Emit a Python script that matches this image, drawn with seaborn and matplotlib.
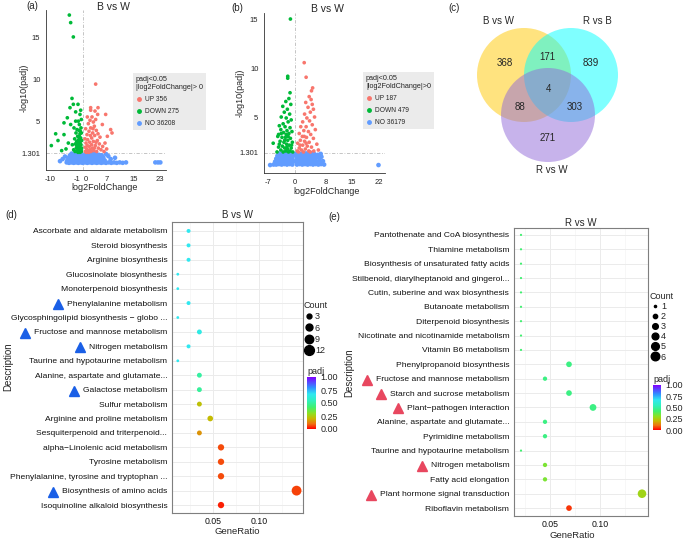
import numpy as np
import pandas as pd
import matplotlib
matplotlib.use("Agg")
import matplotlib.pyplot as plt
from matplotlib.colors import LinearSegmentedColormap, Normalize
from matplotlib.cm import ScalarMappable
from matplotlib.lines import Line2D
from matplotlib.patches import Circle
import seaborn as sns

sns.set_style("white")
plt.rcParams['font.family'] = ['Liberation Sans', 'DejaVu Sans']
plt.rcParams['axes.unicode_minus'] = False

# ---------------- data ----------------
# volcano (a): (log2FoldChange, -log10 padj)
a_down = [(-4.2, 17.7), (-3.8, 16.8), (-3.0, 15.1), (-3.4, 7.8), (-3.0, 7.1), (-1.6, 7.1), (-2.3, 6.2),
          (-4.0, 6.7), (-4.8, 5.5), (-8.3, 3.6), (-7.6, 2.8), (-9.6, 2.2), (-5.8, 3.5), (-5.8, 4.9),
          (-4.5, 2.5), (-5.2, 1.8), (-6.5, 1.6), (-0.6, 1.5), (-0.9, 1.8), (-1.2, 1.6), (-1.5, 2.0),
          (-0.7, 2.3), (-1.1, 2.6), (-1.8, 1.5), (-2.1, 1.9), (-1.4, 2.9), (-0.8, 3.1), (-1.7, 3.3),
          (-1.0, 3.6), (-2.4, 2.4), (-1.3, 4.0), (-0.7, 4.3), (-1.9, 4.1), (-1.2, 4.7), (-0.6, 5.3),
          (-1.5, 5.1), (-2.6, 3.0), (-2.9, 1.7), (-3.3, 2.3), (-2.2, 3.7), (-0.5, 2.8), (-1.6, 1.4),
          (-2.5, 1.5), (-1.0, 1.4), (-0.5, 1.9), (-2.0, 2.7), (-1.3, 2.2), (-0.9, 3.9), (-1.8, 2.5),
          (-2.8, 4.3), (-3.8, 4.7), (-2.3, 5.1), (-1.0, 5.9), (-0.8, 6.4), (-0.7, 1.7), (-1.1, 2.1),
          (-1.4, 2.4), (-0.9, 2.7), (-1.2, 3.3), (-0.6, 3.7), (-1.6, 1.8), (-2.0, 2.2), (-1.1, 1.9)]
a_up = [(0.6, 1.5), (1.0, 1.8), (1.4, 1.6), (1.8, 2.1), (2.3, 1.5), (2.7, 1.9), (3.1, 1.6), (3.6, 2.2),
        (4.0, 1.5), (4.5, 1.9), (0.8, 2.5), (1.3, 2.9), (1.9, 2.6), (2.5, 3.1), (3.0, 2.7), (3.4, 3.4),
        (4.2, 2.8), (4.8, 2.4), (5.3, 1.7), (5.8, 2.1), (6.2, 1.5), (1.1, 3.5), (1.7, 3.9), (2.2, 4.3),
        (2.8, 3.7), (3.3, 4.5), (3.9, 4.0), (4.4, 3.6), (1.5, 4.8), (2.0, 5.2), (2.6, 5.6), (3.0, 5.0),
        (3.7, 5.3), (4.3, 5.9), (2.2, 6.4), (3.5, 6.3), (1.2, 5.6), (0.7, 4.2), (5.0, 3.2), (5.7, 4.7),
        (6.7, 5.9), (8.2, 4.1), (8.6, 3.7), (7.2, 3.3), (3.7, 9.5), (2.2, 6.7), (4.4, 6.7), (6.5, 2.5),
        (7.0, 1.8), (0.5, 3.0), (0.9, 1.4), (1.6, 1.4), (2.0, 1.7), (2.5, 2.3), (3.3, 1.9), (3.8, 2.6),
        (1.2, 2.2), (2.1, 3.4), (2.9, 4.2), (0.6, 2.0)]
a_no = [(-7.0, 0.35), (-6.2, 0.6), (-5.5, 0.9), (-5.0, 0.2), (-4.3, 0.15), (-3.6, 0.2), (-2.9, 0.15),
        (-2.2, 0.2), (-1.5, 0.15), (-0.8, 0.2), (-0.2, 0.15), (0.5, 0.2), (1.2, 0.15), (1.9, 0.2),
        (2.6, 0.15), (3.3, 0.2), (4.0, 0.15), (4.7, 0.2), (5.4, 0.15), (6.1, 0.2), (6.8, 0.15), (7.6, 0.2),
        (8.4, 0.15), (9.2, 0.2), (10.0, 0.15), (10.9, 0.2), (11.8, 0.15), (12.8, 0.2), (21.6, 0.2),
        (22.4, 0.2), (23.1, 0.2),
        (-4.8, 0.45), (-4.1, 0.5), (-3.4, 0.4), (-2.7, 0.5), (-2.0, 0.45), (-1.3, 0.4), (-0.6, 0.5),
        (0.1, 0.45), (0.8, 0.4), (1.5, 0.5), (2.2, 0.45), (2.9, 0.4), (3.6, 0.5), (4.3, 0.45), (5.0, 0.4),
        (5.7, 0.5), (6.4, 0.45), (8.2, 0.6),
        (-4.5, 0.75), (-3.8, 0.8), (-3.1, 0.7), (-2.4, 0.8), (-1.7, 0.75), (-1.0, 0.7), (-0.3, 0.8),
        (0.4, 0.75), (1.1, 0.7), (1.8, 0.8), (2.5, 0.75), (3.2, 0.7), (3.9, 0.8), (4.6, 0.75), (5.3, 0.7),
        (6.0, 0.8), (9.5, 0.75),
        (-4.0, 1.05), (-3.3, 1.1), (-2.6, 1.0), (-1.9, 1.1), (-1.2, 1.05), (-0.5, 1.0), (0.5, 1.1),
        (1.2, 1.05), (1.9, 1.0), (2.6, 1.1), (3.3, 1.05), (4.0, 1.0), (4.7, 1.1), (5.5, 1.05), (7.5, 0.95),
        (-3.5, 1.25), (-2.2, 1.3), (-1.5, 1.25), (-0.8, 1.3), (0.8, 1.25), (1.5, 1.3), (2.2, 1.25),
        (3.0, 1.3), (3.8, 1.25), (6.8, 1.2)]
a_counts = {'UP': 356, 'DOWN': 275, 'NO': 36208}

# volcano (b)
b_down = [(-1.1, 15.1), (-1.8, 9.2), (-1.8, 9.0), (-5.6, 2.3), (-4.2, 3.2), (-1.2, 7.5), (-1.5, 6.9),
          (-2.3, 6.6), (-1.0, 6.3), (-3.1, 6.1), (-1.9, 5.8), (-2.7, 5.5), (-1.3, 5.3), (-3.5, 5.0),
          (-2.2, 4.9), (-0.9, 4.7), (-1.7, 4.5), (-3.0, 4.3), (-4.0, 4.1), (-2.5, 4.0), (-1.2, 3.9),
          (-3.6, 3.7), (-2.0, 3.6), (-0.7, 3.5), (-2.9, 3.4), (-1.5, 3.3), (-4.4, 3.0), (-3.3, 2.9),
          (-2.4, 2.9), (-1.1, 2.8), (-1.8, 2.6), (-3.8, 2.5), (-2.8, 2.4), (-0.6, 2.4), (-2.1, 2.2),
          (-1.4, 2.1), (-3.2, 2.0), (-4.2, 1.9), (-2.6, 1.8), (-0.9, 1.8), (-1.9, 1.7), (-3.6, 1.6),
          (-2.3, 1.5), (-1.2, 1.5), (-3.0, 1.4), (-0.5, 1.4), (-4.6, 1.4), (-1.6, 1.4), (-2.0, 1.9),
          (-2.6, 2.6), (-3.5, 3.3), (-1.7, 3.0), (-0.8, 2.1), (-2.2, 3.2), (-4.0, 2.2)]
b_up = [(2.5, 10.6), (3.0, 9.1), (4.7, 8.0), (4.4, 7.7), (4.9, 5.8), (3.8, 7.1), (4.3, 6.8), (2.9, 6.5),
        (4.6, 6.3), (3.5, 6.0), (4.1, 5.5), (2.6, 5.3), (5.2, 5.0), (3.2, 4.9), (3.9, 4.6), (2.1, 4.5),
        (4.6, 4.2), (1.6, 4.0), (3.0, 4.0), (5.4, 3.7), (2.4, 3.6), (3.6, 3.5), (1.2, 3.3), (4.2, 3.2),
        (2.0, 3.0), (3.1, 2.9), (4.9, 2.8), (1.5, 2.6), (2.6, 2.5), (3.8, 2.4), (0.8, 2.3), (5.8, 2.2),
        (2.1, 2.1), (3.3, 2.0), (4.4, 1.9), (1.2, 1.8), (2.8, 1.7), (1.8, 1.6), (3.7, 1.5), (0.7, 1.5),
        (5.0, 1.5), (2.3, 1.4), (1.0, 1.4), (4.1, 1.4), (6.2, 1.6), (1.4, 2.1), (2.5, 3.0), (3.0, 2.3)]
b_no = [(-6.4, 0.05), (21.9, 0.05),
        (-5.5, 0.1), (-4.8, 0.1), (-4.1, 0.15), (-3.4, 0.1), (-2.7, 0.15), (-2.0, 0.1), (-1.3, 0.15),
        (-0.6, 0.1), (0.6, 0.1), (1.3, 0.15), (2.0, 0.1), (2.7, 0.15), (3.4, 0.1), (4.1, 0.15), (4.8, 0.1),
        (5.5, 0.15), (6.2, 0.1), (6.9, 0.15), (7.7, 0.1),
        (-5.1, 0.4), (-4.4, 0.45), (-3.7, 0.4), (-3.0, 0.45), (-2.3, 0.4), (-1.6, 0.45), (-0.9, 0.4),
        (-0.3, 0.45), (0.3, 0.4), (0.9, 0.45), (1.6, 0.4), (2.3, 0.45), (3.0, 0.4), (3.7, 0.45),
        (4.4, 0.4), (5.1, 0.45), (5.8, 0.4), (6.6, 0.5), (7.4, 0.45),
        (-4.8, 0.7), (-4.1, 0.75), (-3.4, 0.7), (-2.7, 0.75), (-2.0, 0.7), (-1.3, 0.75), (-0.6, 0.7),
        (0.6, 0.7), (1.3, 0.75), (2.0, 0.7), (2.7, 0.75), (3.4, 0.7), (4.1, 0.75), (4.8, 0.7), (5.5, 0.75),
        (6.3, 0.8), (7.0, 0.9),
        (-4.5, 1.0), (-3.8, 1.05), (-3.1, 1.0), (-2.4, 1.05), (-1.7, 1.0), (-1.0, 1.05), (-0.4, 1.0),
        (0.4, 1.0), (1.0, 1.05), (1.7, 1.0), (2.4, 1.05), (3.1, 1.0), (3.8, 1.05), (4.5, 1.0), (5.2, 1.05),
        (6.0, 1.1), (6.8, 1.2),
        (-4.1, 1.25), (-3.1, 1.25), (-2.0, 1.25), (-1.2, 1.25), (-0.5, 1.25), (0.5, 1.25), (1.2, 1.25),
        (2.1, 1.25), (3.0, 1.25), (4.0, 1.25), (5.0, 1.25)]
b_counts = {'UP': 187, 'DOWN': 479, 'NO': 36179}

# venn (c)
venn_sets = ['B vs W', 'R vs B', 'R vs W']
venn_regions = ['BW', 'BW&RB', 'RB', 'all', 'BW&RW', 'RB&RW', 'RW']
venn_counts = [368, 171, 839, 4, 88, 303, 271]

# KEGG dot plot (d)
d_terms = ['Ascorbate and aldarate metabolism', 'Steroid biosynthesis', 'Arginine biosynthesis',
           'Glucosinolate biosynthesis', 'Monoterpenoid biosynthesis', 'Phenylalanine metabolism',
           'Glycosphingolipid biosynthesis \u2212 globo ...', 'Fructose and mannose metabolism',
           'Nitrogen metabolism', 'Taurine and hypotaurine metabolism', 'Alanine, aspartate and glutamate...',
           'Galactose metabolism', 'Sulfur metabolism', 'Arginine and proline metabolism',
           'Sesquiterpenoid and triterpenoid...', 'alpha\u2212Linolenic acid metabolism', 'Tyrosine metabolism',
           'Phenylalanine, tyrosine and tryptophan ...', 'Biosynthesis of amino acids',
           'Isoquinoline alkaloid biosynthesis']
d_ratio = [0.0235, 0.0235, 0.0235, 0.0118, 0.0118, 0.0235, 0.0118, 0.0353, 0.0235, 0.0118,
           0.0353, 0.0353, 0.0353, 0.0471, 0.0353, 0.0588, 0.0588, 0.0588, 0.141, 0.0588]
d_count = [2, 2, 2, 1, 1, 2, 1, 3, 2, 1, 3, 3, 3, 4, 3, 5, 5, 5, 12, 5]
d_padj = [0.67, 0.67, 0.67, 0.67, 0.67, 0.67, 0.67, 0.64, 0.67, 0.67,
          0.50, 0.49, 0.22, 0.21, 0.15, 0.07, 0.07, 0.07, 0.06, 0.03]
d_marked = ['Phenylalanine metabolism', 'Fructose and mannose metabolism', 'Nitrogen metabolism',
            'Galactose metabolism', 'Biosynthesis of amino acids']

# KEGG dot plot (e)
e_terms = ['Pantothenate and CoA biosynthesis', 'Thiamine metabolism', 'Biosynthesis of unsaturated fatty acids',
           'Stilbenoid, diarylheptanoid and gingerol...', 'Cutin, suberine and wax biosynthesis',
           'Butanoate metabolism', 'Diterpenoid biosynthesis', 'Nicotinate and nicotinamide metabolism',
           'Vitamin B6 metabolism', 'Phenylpropanoid biosynthesis', 'Fructose and mannose metabolism',
           'Starch and sucrose metabolism', 'Plant\u2212pathogen interaction', 'Alanine, aspartate and glutamate...',
           'Pyrimidine metabolism', 'Taurine and hypotaurine metabolism', 'Nitrogen metabolism',
           'Fatty acid elongation', 'Plant hormone signal transduction', 'Riboflavin metabolism']
e_ratio = [0.021, 0.021, 0.021, 0.021, 0.021, 0.021, 0.021, 0.021, 0.021, 0.069,
           0.045, 0.069, 0.093, 0.045, 0.045, 0.021, 0.045, 0.045, 0.142, 0.069]
e_count = [1, 1, 1, 1, 1, 1, 1, 1, 1, 3, 2, 3, 4, 2, 2, 1, 2, 2, 6, 3]
e_padj = [0.42, 0.42, 0.42, 0.42, 0.42, 0.42, 0.42, 0.42, 0.42, 0.45,
          0.45, 0.45, 0.45, 0.45, 0.45, 0.42, 0.33, 0.33, 0.27, 0.05]
e_marked = ['Fructose and mannose metabolism', 'Starch and sucrose metabolism', 'Plant\u2212pathogen interaction',
            'Nitrogen metabolism', 'Plant hormone signal transduction']

# ---------------- layout helpers (pixel based) ----------------
W, H = 685, 542
fig = plt.figure(figsize=(W / 100, H / 100), dpi=100)
fig.patch.set_facecolor('white')


def fx(px):
    return px / W


def fy(py):
    return 1 - py / H


def box(x0, y0, x1, y1):
    return [x0 / W, 1 - y1 / H, (x1 - x0) / W, (y1 - y0) / H]


VOLC_COLORS = {'UP': '#F8766D', 'DOWN': '#00BA38', 'NO': '#619CFF'}
VOLC_SIZES = {'UP': 7, 'DOWN': 7, 'NO': 11}
PADJ_CMAP = LinearSegmentedColormap.from_list('padj', [
    (0.0, '#FF0000'), (0.1, '#F07010'), (0.2, '#C8B800'), (0.3, '#90E020'), (0.42, '#40F070'),
    (0.55, '#30F0C0'), (0.67, '#30E8F0'), (0.8, '#3090FF'), (1.0, '#8000FF')])


def volcano(rect, up, down, no, counts, xticks, xlim, ylim, title, title_xy, leg_title, leg_xy,
            xlabel_xy, ylabel_xy):
    ax = fig.add_axes(rect)
    frames = []
    for grp, pts in (('NO', no), ('DOWN', down), ('UP', up)):
        x, y = zip(*pts)
        frames.append(pd.DataFrame({'log2FoldChange': x, 'nlp': y, 'group': grp}))
    df = pd.concat(frames, ignore_index=True)
    sns.scatterplot(data=df, x='log2FoldChange', y='nlp', hue='group', palette=VOLC_COLORS,
                    size='group', sizes=VOLC_SIZES, linewidth=0, legend=False, ax=ax)
    ax.axhline(1.301, color='#BBBBBB', lw=0.6, ls=(0, (4, 2, 1, 2)), zorder=0)
    ax.axvline(0, color='#BBBBBB', lw=0.6, ls=(0, (4, 2, 1, 2)), zorder=0)
    ax.set_xlim(*xlim)
    ax.set_ylim(*ylim)
    ax.set_xticks(xticks)
    ax.set_yticks([1.301, 5, 10, 15])
    ax.set_yticklabels(['1.301', '5', '10', '15'])
    for s in ('top', 'right'):
        ax.spines[s].set_visible(False)
    for s in ('left', 'bottom'):
        ax.spines[s].set_color('#333333')
        ax.spines[s].set_linewidth(0.6)
    ax.tick_params(labelsize=5.5, length=2.5, width=0.5, color='#333333', pad=1.5, labelcolor='#222222')
    # keep the close "-1" / "0" pair readable
    for lab in ax.get_xticklabels():
        if lab.get_text() == '-1':
            lab.set_horizontalalignment('right')
        elif lab.get_text() == '0' and -1 in xticks:
            lab.set_horizontalalignment('left')
    ax.set_xlabel('')
    ax.set_ylabel('')
    fig.text(fx(xlabel_xy[0]), fy(xlabel_xy[1]), 'log2FoldChange', ha='center', va='center', fontsize=6.5)
    fig.text(fx(ylabel_xy[0]), fy(ylabel_xy[1]), '-log10(padj)', rotation=90, ha='center', va='center',
             fontsize=6.5)
    fig.text(fx(title_xy[0]), fy(title_xy[1]), title, ha='center', va='center', fontsize=7.5)
    handles = [Line2D([], [], marker='o', ls='', color=VOLC_COLORS[g], markersize=2.5) for g in ('UP', 'DOWN', 'NO')]
    labels = [f'{g} {counts[g]}' for g in ('UP', 'DOWN', 'NO')]
    leg = ax.legend(handles, labels, title=leg_title, loc='upper left',
                    bbox_to_anchor=(fx(leg_xy[0]), fy(leg_xy[1])), bbox_transform=fig.transFigure,
                    fontsize=4.8, title_fontsize=5.2, frameon=True, facecolor='#EBEBEB', edgecolor='none',
                    framealpha=1, fancybox=False, handletextpad=0.3, labelspacing=0.75, borderpad=0.45,
                    handlelength=1.0, borderaxespad=0)
    leg._legend_box.align = 'left'
    return ax


def dotplot(rect, terms, ratio, count, padj, title, sizes, size_norm, xlim, ylim, title_pad, xlabel_xy):
    ax = fig.add_axes(rect)
    df = pd.DataFrame({'Description': terms, 'GeneRatio': ratio, 'Count': count, 'padj': padj})
    ax.set_axisbelow(True)
    ax.set_xticks([0.05, 0.10])
    ax.set_xticks([0.025, 0.075, 0.125], minor=True)
    ax.grid(True, which='major', color='#EBEBEB', lw=0.7)
    ax.grid(True, which='minor', axis='x', color='#F2F2F2', lw=0.4)
    sns.scatterplot(data=df, x='GeneRatio', y='Description', hue='padj', palette=PADJ_CMAP, hue_norm=(0, 1),
                    size='Count', sizes=sizes, size_norm=size_norm, linewidth=0, legend=False, ax=ax, zorder=3)
    ax.set_xlim(*xlim)
    ax.set_ylim(*ylim)
    ax.set_xticklabels(['0.05', '0.10'])
    for s in ax.spines.values():
        s.set_color('#7F7F7F')
        s.set_linewidth(0.8)
    ax.tick_params(axis='y', labelsize=6.1, length=2, width=0.5, color='#333333', pad=1.5, labelcolor='#111111')
    ax.tick_params(axis='x', labelsize=6.3, length=2, width=0.5, color='#333333', pad=1, labelcolor='#111111')
    ax.tick_params(which='minor', length=0)
    ax.set_xlabel('')
    ax.set_ylabel('')
    fig.text(fx(xlabel_xy[0]), fy(xlabel_xy[1]), 'GeneRatio', ha='center', va='center', fontsize=6.8)
    ax.set_title(title, fontsize=7, pad=title_pad)
    return ax


def size_legend(breaks, sizes, size_norm, xy, spacing):
    lo, hi = size_norm
    handles = [Line2D([], [], marker='o', ls='', color='black',
                      markersize=np.sqrt(sizes[0] + (b - lo) / (hi - lo) * (sizes[1] - sizes[0])))
               for b in breaks]
    leg = fig.legend(handles, [str(b) for b in breaks], title='Count', loc='upper left',
                     bbox_to_anchor=(fx(xy[0]), fy(xy[1])), frameon=False, fontsize=6.5, title_fontsize=6.5,
                     handletextpad=0.2, labelspacing=spacing, borderpad=0, handlelength=1.0, borderaxespad=0)
    leg._legend_box.align = 'left'


def padj_bar(rect):
    cax = fig.add_axes(rect)
    cb = fig.colorbar(ScalarMappable(norm=Normalize(0, 1), cmap=PADJ_CMAP), cax=cax)
    cb.set_ticks([0, 0.25, 0.5, 0.75, 1.0])
    cb.ax.set_yticklabels(['0.00', '0.25', '0.50', '0.75', '1.00'])
    cb.outline.set_visible(False)
    cb.ax.tick_params(labelsize=6.5, length=2, color='white', pad=1)
    cax.set_title('padj', loc='left', fontsize=6.5, pad=2)


# ---------------- (a) (b) volcano ----------------
volcano(box(46, 10, 166, 170), a_up, a_down, a_no, a_counts, [-10, -1, 0, 7, 15, 23],
        (-11.2, 24.8), (-0.7, 18.3), 'B vs W', (113, 7), 'padj<0.05\n|log2FoldChange|> 0', (133, 73),
        (105, 188), (24, 88))
volcano(box(264, 13, 385, 173), b_up, b_down, b_no, b_counts, [-7, 0, 8, 15, 22],
        (-8.0, 23.6), (-0.77, 15.72), 'B vs W', (327, 9), 'padj<0.05\n|log2FoldChange|>0', (363, 72),
        (327, 192), (240, 93))

# ---------------- (c) venn ----------------
ax_c = fig.add_axes(box(455, 0, 685, 195))
ax_c.set_xlim(455, 685)
ax_c.set_ylim(195, 0)
ax_c.axis('off')
circle_xy = [(524, 75), (571, 75), (548, 115)]
circle_col = ['#FFC800', '#00FFFF', '#9169D9']
set_label_xy = [(499, 21), (597, 21), (552, 170)]
for (cx, cy), col, name, (lx, ly) in zip(circle_xy, circle_col, venn_sets, set_label_xy):
    ax_c.add_patch(Circle((cx, cy), 47, facecolor=col, alpha=0.5, edgecolor='none'))
    ax_c.text(lx, ly, name, ha='center', va='center', fontsize=7)
region_xy = [(505, 63), (547, 57), (591, 63), (549, 89), (520, 107), (575, 107), (548, 138)]
for (rx, ry), n in zip(region_xy, venn_counts):
    ax_c.text(rx, ry, str(n), ha='center', va='center', fontsize=7)

# ---------------- (d) (e) KEGG dot plots ----------------
ax_d = dotplot(box(172, 222, 303, 513), d_terms, d_ratio, d_count, d_padj, 'B vs W',
               (4, 50), (1, 12), (0.0055, 0.148), (19.55, -0.62), 3, (237, 531))
size_legend([3, 6, 9, 12], (4, 50), (1, 12), (304, 301), 0.25)
padj_bar(box(307, 377, 316, 429))

ax_e = dotplot(box(514, 228, 648, 516), e_terms, e_ratio, e_count, e_padj, 'R vs W',
               (2.5, 38), (1, 6), (0.014, 0.148), (19.55, -0.48), 1.5, (572, 535))
size_legend([1, 2, 3, 4, 5, 6], (2.5, 38), (1, 6), (650, 292), 0.12)
padj_bar(box(653, 385, 661, 430))

fig.text(fx(8), fy(367), 'Description', rotation=90, ha='center', va='center', fontsize=7)
fig.text(fx(349), fy(373), 'Description', rotation=90, ha='center', va='center', fontsize=7)

for lab, (px, py) in zip(['(a)', '(b)', '(c)', '(d)', '(e)'],
                         [(32, 6), (237, 8), (454, 8), (11, 215), (334, 217)]):
    fig.text(fx(px), fy(py), lab, ha='center', va='center', fontsize=7)

# triangles in front of highlighted pathways
fig.canvas.draw()
renderer = fig.canvas.get_renderer()


def mark_rows(ax, marked, color):
    for lab in ax.get_yticklabels():
        if lab.get_text() in marked:
            bb = lab.get_window_extent(renderer)
            x, y = fig.transFigure.inverted().transform((bb.x0 - 9, (bb.y0 + bb.y1) / 2))
            fig.add_artist(Line2D([x], [y], marker='^', ms=6.5, color=color, ls='',
                                  transform=fig.transFigure))


mark_rows(ax_d, d_marked, '#1A5FE6')
mark_rows(ax_e, e_marked, '#E8475F')

fig.savefig('out.png', dpi=100)
